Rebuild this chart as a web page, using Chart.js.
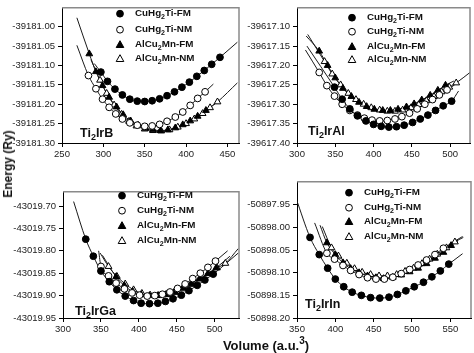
<!DOCTYPE html>
<html>
<head>
<meta charset="utf-8">
<script src="https://cdn.jsdelivr.net/npm/chart.js@4"></script>
<style>
  body { margin: 0; background: #fff; }
  #wrap { position: relative; width: 474px; height: 353px; overflow: hidden; background: #fff; font-family: 'Liberation Sans', Arial, sans-serif; }
  canvas { position: absolute; }
  .ytitle { position: absolute; left: 8px; top: 164px; transform: translate(-50%, -50%) rotate(-90deg); white-space: nowrap; font-weight: bold; font-size: 12px; color: #111; }
  .xtitle { position: absolute; left: 266px; top: 344px; transform: translate(-50%, -50%); white-space: nowrap; font-weight: bold; font-size: 13px; color: #111; }
  .xtitle sup { font-size: 10px; }
</style>
</head>
<body>
<div id="wrap">
  <canvas id="c1"></canvas>
  <canvas id="c2"></canvas>
  <canvas id="c3"></canvas>
  <canvas id="c4"></canvas>
  <div class="ytitle">Energy (Ry)</div>
  <div class="xtitle">Volume (a.u.<sup>3</sup>)</div>
</div>
<script>
// ---- Ti2IrB ----
const bXTicks = [250, 300, 350, 400, 450];
const bYTicks = [-39181.30, -39181.25, -39181.20, -39181.15, -39181.10, -39181.05, -39181.00];
const bFM_V = [297, 305, 314, 323, 332, 341, 350, 359, 368, 377, 386, 395, 404, 413, 422, 431, 441];
const bFM_E = [-39181.117, -39181.141, -39181.161, -39181.176, -39181.187, -39181.192, -39181.193, -39181.191, -39181.186, -39181.178, -39181.168, -39181.156, -39181.143, -39181.128, -39181.113, -39181.097, -39181.079];
const bFM_fit = [[289, -39181.095], [462, -39181.040]];
const bNM_V = [282, 291, 299, 307, 315, 323, 332, 341, 350, 359, 368, 377, 387, 396, 405, 414, 423];
const bNM_E = [-39181.126, -39181.160, -39181.187, -39181.208, -39181.225, -39181.238, -39181.248, -39181.254, -39181.257, -39181.256, -39181.252, -39181.244, -39181.233, -39181.220, -39181.203, -39181.185, -39181.168];
const bNM_fit = [[268, -39181.048], [433, -39181.148]];
const bAFM_V = [283, 291, 299, 307, 316, 324, 333, 342, 351, 360, 369, 378, 387, 396, 405, 414, 424];
const bAFM_E = [-39181.070, -39181.116, -39181.152, -39181.182, -39181.207, -39181.227, -39181.243, -39181.254, -39181.262, -39181.266, -39181.268, -39181.266, -39181.261, -39181.253, -39181.243, -39181.231, -39181.216];
const bAFM_fit = [[268, -39180.977], [440, -39181.190]];
const bANM_V = [296, 304, 313, 322, 331, 340, 350, 360, 370, 380, 390, 400, 410, 420, 429, 438];
const bANM_E = [-39181.138, -39181.172, -39181.202, -39181.226, -39181.244, -39181.256, -39181.264, -39181.268, -39181.269, -39181.266, -39181.259, -39181.250, -39181.238, -39181.224, -39181.209, -39181.194];
const bANM_fit = [[285, -39181.085], [462, -39181.145]];

// ---- Ti2IrAl ----
const alXTicks = [300, 350, 400, 450, 500];
const alYTicks = [-39617.40, -39617.35, -39617.30, -39617.25, -39617.20, -39617.15, -39617.10];
const alFM_V = [349, 359, 369, 379, 390, 400, 410, 420, 430, 440, 451, 461, 471, 481, 491, 502];
const alFM_E = [-39617.256, -39617.287, -39617.312, -39617.330, -39617.343, -39617.352, -39617.357, -39617.359, -39617.358, -39617.354, -39617.347, -39617.338, -39617.328, -39617.316, -39617.304, -39617.292];
const alFM_fit = [[313, -39617.150], [511, -39617.266]];
const alNM_V = [329, 339, 349, 359, 369, 379, 388, 398, 408, 418, 428, 437, 447, 457, 467, 477, 486, 496];
const alNM_E = [-39617.218, -39617.252, -39617.279, -39617.300, -39617.316, -39617.328, -39617.336, -39617.341, -39617.343, -39617.342, -39617.338, -39617.332, -39617.323, -39617.312, -39617.300, -39617.288, -39617.276, -39617.263];
const alNM_fit = [[311, -39617.160], [506, -39617.250]];
const alAFM_V = [329, 340, 350, 360, 371, 381, 391, 401, 412, 422, 432, 443, 453, 463, 474, 484, 494];
const alAFM_E = [-39617.163, -39617.200, -39617.232, -39617.259, -39617.280, -39617.295, -39617.306, -39617.313, -39617.316, -39617.316, -39617.313, -39617.307, -39617.299, -39617.289, -39617.277, -39617.264, -39617.251];
const alAFM_fit = [[312, -39617.124], [505, -39617.240]];
const alANM_V = [336, 346, 357, 367, 377, 387, 397, 408, 418, 428, 438, 449, 459, 469, 479, 489, 499, 508];
const alANM_E = [-39617.190, -39617.222, -39617.250, -39617.272, -39617.288, -39617.300, -39617.309, -39617.315, -39617.318, -39617.318, -39617.315, -39617.309, -39617.301, -39617.291, -39617.280, -39617.268, -39617.256, -39617.245];
const alANM_fit = [[314, -39617.120], [526, -39617.218]];

// ---- Ti2IrGa ----
const gaXTicks = [300, 350, 400, 450, 500];
const gaYTicks = [-43019.95, -43019.90, -43019.85, -43019.80, -43019.75, -43019.70];
const gaFM_V = [330, 340, 350, 361, 371, 382, 393, 403, 414, 425, 435, 445, 456, 466, 477, 487, 498];
const gaFM_E = [-43019.774, -43019.812, -43019.845, -43019.869, -43019.887, -43019.901, -43019.911, -43019.917, -43019.918, -43019.917, -43019.913, -43019.907, -43019.899, -43019.889, -43019.877, -43019.865, -43019.852];
const gaFM_fit = [[314, -43019.690], [531, -43019.805]];
const gaNM_V = [350, 360, 370, 381, 391, 401, 411, 421, 431, 441, 451, 461, 471, 481, 491, 501];
const gaNM_E = [-43019.835, -43019.856, -43019.872, -43019.885, -43019.894, -43019.899, -43019.901, -43019.900, -43019.897, -43019.892, -43019.884, -43019.874, -43019.862, -43019.850, -43019.837, -43019.823];
const gaNM_fit = [[347, -43019.800], [517, -43019.800]];
const gaAFM_V = [370, 381, 392, 403, 414, 425, 436, 447, 458, 469, 480, 491, 502];
const gaAFM_E = [-43019.858, -43019.878, -43019.891, -43019.898, -43019.900, -43019.900, -43019.897, -43019.891, -43019.883, -43019.873, -43019.862, -43019.851, -43019.838];
const gaAFM_fit = [[352, -43019.810], [520, -43019.812]];
const gaANM_V = [360, 371, 382, 393, 404, 415, 426, 437, 448, 459, 470, 481, 492, 503, 514];
const gaANM_E = [-43019.835, -43019.857, -43019.874, -43019.887, -43019.895, -43019.899, -43019.900, -43019.898, -43019.893, -43019.885, -43019.875, -43019.863, -43019.850, -43019.838, -43019.828];
const gaANM_fit = [[349, -43019.805], [531, -43019.795]];

// ---- Ti2IrIn ----
const inXTicks = [350, 400, 450, 500, 550];
const inYTicks = [-50898.20, -50898.15, -50898.10, -50898.05, -50898.00, -50897.95];
const inFM_V = [367, 379, 390, 400, 411, 422, 434, 446, 458, 470, 481, 492, 503, 515, 526, 537, 548];
const inFM_E = [-50898.022, -50898.060, -50898.090, -50898.114, -50898.131, -50898.143, -50898.150, -50898.155, -50898.156, -50898.154, -50898.148, -50898.140, -50898.131, -50898.121, -50898.109, -50898.096, -50898.081];
const inFM_fit = [[349, -50897.937], [566, -50898.058]];
const inNM_V = [389, 399, 410, 420, 431, 442, 453, 464, 475, 486, 497, 508, 519, 530, 541];
const inNM_E = [-50898.057, -50898.070, -50898.084, -50898.095, -50898.104, -50898.111, -50898.114, -50898.114, -50898.110, -50898.102, -50898.093, -50898.083, -50898.072, -50898.060, -50898.046];
const inNM_fit = [[373, -50897.990], [566, -50898.020]];
const inAFM_V = [389, 400, 410, 420, 431, 442, 453, 463, 475, 486, 497, 508, 519, 530, 541, 551];
const inAFM_E = [-50898.034, -50898.060, -50898.078, -50898.091, -50898.100, -50898.107, -50898.111, -50898.113, -50898.110, -50898.105, -50898.098, -50898.090, -50898.080, -50898.068, -50898.055, -50898.040];
const inAFM_fit = [[380, -50897.995], [560, -50898.030]];
const inANM_V = [395, 404, 415, 425, 435, 446, 457, 468, 480, 491, 502, 513, 523, 533, 545, 556];
const inANM_E = [-50898.045, -50898.063, -50898.079, -50898.091, -50898.099, -50898.104, -50898.107, -50898.107, -50898.104, -50898.097, -50898.090, -50898.080, -50898.070, -50898.059, -50898.045, -50898.032];
const inANM_fit = [[383, -50897.998], [567, -50898.022]];

const FONT = "'Liberation Sans', Arial, sans-serif";
const legendItems = [
    { parts: [['CuHg'], ['2', 1], ['Ti-FM']], style: 'circle', fill: '#000' },
    { parts: [['CuHg'], ['2', 1], ['Ti-NM']], style: 'circle', fill: '#fff' },
    { parts: [['AlCu'], ['2', 1], ['Mn-FM']], style: 'triangle', fill: '#000' },
    { parts: [['AlCu'], ['2', 1], ['Mn-NM']], style: 'triangle', fill: '#fff' }
];

function pts(V, E) {
    return V.map((v, i) => ({ x: v, y: E[i] }));
}

function drawRich(ctx, parts, x, y, size) {
    let cx = x;
    parts.forEach(p => {
        const sub = p[1];
        ctx.font = 'bold ' + (sub ? size * 0.72 : size) + 'px ' + FONT;
        ctx.fillText(p[0], cx, sub ? y + size * 0.3 : y);
        cx += ctx.measureText(p[0]).width;
    });
}

function drawMarker(ctx, style, fill, x, y) {
    ctx.beginPath();
    if (style === 'circle') {
        ctx.arc(x, y, 3.4, 0, Math.PI * 2);
    } else {
        ctx.moveTo(x, y - 4);
        ctx.lineTo(x + 3.8, y + 2.8);
        ctx.lineTo(x - 3.8, y + 2.8);
        ctx.closePath();
    }
    ctx.fillStyle = fill;
    ctx.fill();
    ctx.lineWidth = 1;
    ctx.strokeStyle = '#000';
    ctx.stroke();
}

const panelDecor = {
    id: 'panelDecor',
    afterDraw(chart, args, opts) {
        const ctx = chart.ctx;
        const a = chart.chartArea;
        ctx.save();
        // grey top/right frame
        ctx.strokeStyle = '#8a8a8a';
        ctx.lineWidth = 1.5;
        ctx.beginPath();
        ctx.moveTo(a.left, a.top);
        ctx.lineTo(a.right, a.top);
        ctx.lineTo(a.right, a.bottom);
        ctx.stroke();
        // legend
        ctx.textBaseline = 'middle';
        legendItems.forEach((it, i) => {
            const y = a.top + opts.rows[i];
            drawMarker(ctx, it.style, it.fill, a.left + opts.mx, y);
            ctx.fillStyle = '#111';
            drawRich(ctx, it.parts, a.left + opts.tx, y, 9.8);
        });
        // compound name
        ctx.fillStyle = '#111';
        drawRich(ctx, opts.name, a.left + opts.nx, a.top + opts.ny, 12.5);
        ctx.restore();
    }
};

function makePanel(cfg) {
    const el = document.getElementById(cfg.id);
    const W = cfg.right - cfg.left + 62 + 3;
    const H = cfg.bottom - cfg.top + 2 + 20;
    el.width = W;
    el.height = H;
    el.style.left = (cfg.left - 62) + 'px';
    el.style.top = (cfg.top - 2) + 'px';

    const lineSet = (s) => ({
        data: [{ x: s.fit[0][0], y: s.fit[0][1] }, ...pts(s.V, s.E), { x: s.fit[1][0], y: s.fit[1][1] }],
        showLine: true,
        borderColor: '#1a1a1a',
        borderWidth: 1,
        pointRadius: 0,
        cubicInterpolationMode: 'monotone',
        order: 1
    });
    const markSet = (s, style, fill) => ({
        data: pts(s.V, s.E),
        showLine: false,
        pointStyle: style,
        pointRadius: style === 'triangle' ? 3.9 : 3.4,
        backgroundColor: fill,
        borderColor: '#000',
        borderWidth: 1,
        order: 0
    });

    const datasets = [];
    cfg.series.forEach(s => datasets.push(lineSet(s)));
    cfg.series.forEach((s, i) => datasets.push(markSet(s, legendItems[i].style, legendItems[i].fill)));

    const tickFont = { family: FONT, size: 9.5 };
    new Chart(el, {
        type: 'scatter',
        data: { datasets },
        options: {
            responsive: false,
            animation: false,
            events: [],
            layout: { padding: { left: 0, top: 2, right: 3, bottom: 0 } },
            plugins: {
                legend: { display: false },
                tooltip: { enabled: false },
                panelDecor: cfg.decor
            },
            scales: {
                x: {
                    type: 'linear',
                    min: cfg.xMin,
                    max: cfg.xMax,
                    afterFit: s => { s.height = 20; },
                    afterBuildTicks: s => { s.ticks = cfg.xTicks.map(v => ({ value: v })); },
                    grid: { drawOnChartArea: false, tickLength: 4, color: '#000' },
                    border: { color: '#000', width: 1 },
                    ticks: { font: tickFont, color: '#222', padding: 2, maxRotation: 0 }
                },
                y: {
                    type: 'linear',
                    min: cfg.yMin,
                    max: cfg.yMax,
                    afterFit: s => { s.width = 62; },
                    afterBuildTicks: s => { s.ticks = cfg.yTicks.map(v => ({ value: v })); },
                    grid: { drawOnChartArea: false, tickLength: 4, color: '#000' },
                    border: { color: '#000', width: 1 },
                    ticks: { font: tickFont, color: '#222', padding: 3, callback: v => v.toFixed(2) }
                }
            }
        },
        plugins: [panelDecor]
    });
}

makePanel({
    id: 'c1', left: 62, top: 1, right: 241, bottom: 143,
    xMin: 250, xMax: 464, yMin: -39181.30, yMax: -39180.951,
    xTicks: bXTicks, yTicks: bYTicks,
    series: [
        { V: bFM_V, E: bFM_E, fit: bFM_fit },
        { V: bNM_V, E: bNM_E, fit: bNM_fit },
        { V: bAFM_V, E: bAFM_E, fit: bAFM_fit },
        { V: bANM_V, E: bANM_E, fit: bANM_fit }
    ],
    decor: { mx: 58, tx: 73, rows: [6, 22, 37, 51], name: [['Ti'], ['2', 1], ['IrB']], nx: 18, ny: 126 }
});

makePanel({
    id: 'c2', left: 297, top: 1, right: 472, bottom: 143,
    xMin: 300, xMax: 526, yMin: -39617.40, yMax: -39617.051,
    xTicks: alXTicks, yTicks: alYTicks,
    series: [
        { V: alFM_V, E: alFM_E, fit: alFM_fit },
        { V: alNM_V, E: alNM_E, fit: alNM_fit },
        { V: alAFM_V, E: alAFM_E, fit: alAFM_fit },
        { V: alANM_V, E: alANM_E, fit: alANM_fit }
    ],
    decor: { mx: 55, tx: 70, rows: [10, 24, 39, 52], name: [['Ti'], ['2', 1], ['IrAl']], nx: 11, ny: 124 }
});

makePanel({
    id: 'c3', left: 63, top: 185, right: 241, bottom: 318,
    xMin: 300, xMax: 532, yMin: -43019.95, yMax: -43019.668,
    xTicks: gaXTicks, yTicks: gaYTicks,
    series: [
        { V: gaFM_V, E: gaFM_E, fit: gaFM_fit },
        { V: gaNM_V, E: gaNM_E, fit: gaNM_fit },
        { V: gaAFM_V, E: gaAFM_E, fit: gaAFM_fit },
        { V: gaANM_V, E: gaANM_E, fit: gaANM_fit }
    ],
    decor: { mx: 59, tx: 74, rows: [4, 19, 34, 49], name: [['Ti'], ['2', 1], ['IrGa']], nx: 12, ny: 120 }
});

makePanel({
    id: 'c4', left: 297, top: 175, right: 473, bottom: 318,
    xMin: 350, xMax: 577, yMin: -50898.20, yMax: -50897.899,
    xTicks: inXTicks, yTicks: inYTicks,
    series: [
        { V: inFM_V, E: inFM_E, fit: inFM_fit },
        { V: inNM_V, E: inNM_E, fit: inNM_fit },
        { V: inAFM_V, E: inAFM_E, fit: inAFM_fit },
        { V: inANM_V, E: inANM_E, fit: inANM_fit }
    ],
    decor: { mx: 52, tx: 67, rows: [11, 26, 40, 55], name: [['Ti'], ['2', 1], ['IrIn']], nx: 8, ny: 123 }
});
</script>
</body>
</html>
